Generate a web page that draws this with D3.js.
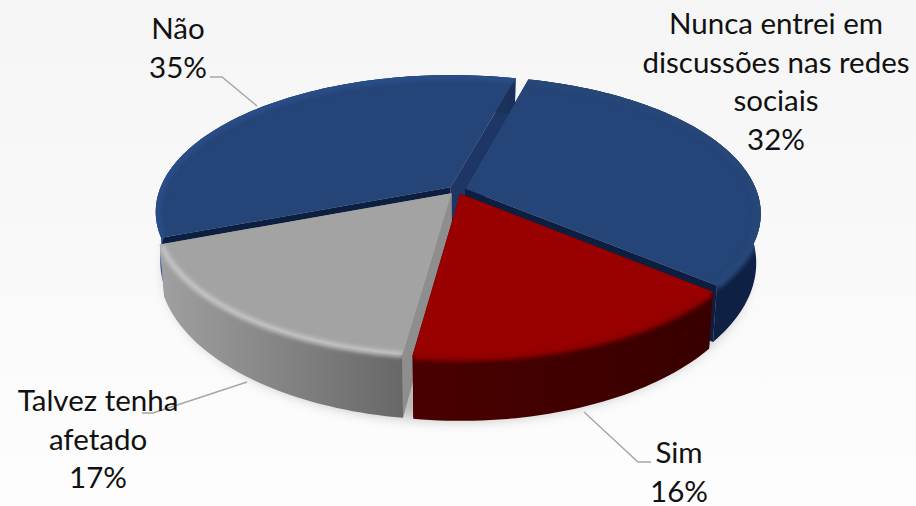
<!DOCTYPE html>
<html><head><meta charset="utf-8">
<script src="https://cdnjs.cloudflare.com/ajax/libs/d3/7.8.5/d3.min.js"></script>
<style>html,body{margin:0;padding:0;background:#f8f8f8}svg{display:block}text{font-family:Lato,"Open Sans",sans-serif;fill:#111}</style>
</head><body><svg id="c" width="916" height="506"></svg>
<script>
const categories=["Nunca entrei em discussões nas redes sociais","Sim","Talvez tenha afetado","Não"];
const values=[32,16,17,35];
const topColors=["#254478","#990000","#a3a3a3","#254478"];
const wallLeft=["#0c1d3c","#4a0000","#a0a0a0","#2c5596"];
const wallRight=["#0e2144","#380000","#686868","#1a3058"];
const cutStart=["#0d1f40","#5a0000","#8e8e8e","#0d1f40"];
const cutEnd=["#0d1f40","#5a0000","#8e8e8e","#1d3666"];
const bevelColors=["#264678","#930404","#c9c9c9","#294d88"];
const bevelWidths=[9,8,5,7];
const labelLines=[["Nunca entrei em","discussões nas redes","sociais","32%"],["Sim","16%"],["Talvez tenha","afetado","17%"],["Não","35%"]];
const labelPos=[[776,34],[679,463],[98,411],[178,39]];
const leaders=[null,[[651,462],[638,462],[584,412]],[[142,413],[153,413],[247,382]],[[210,77],[222,77],[257,106]]];

const W=916,H=506,cx=457,cy=190,R=291,Ry=133,k=0.177,explode=0.03;
const bx=0.985,by=1.1,dy=47;
const svg=d3.select("#c");
const defs=svg.append("defs");
const bg=defs.append("linearGradient").attr("id","bg").attr("x1",0).attr("y1",0).attr("x2",0).attr("y2",1);
bg.append("stop").attr("offset",0).attr("stop-color","#f5f5f5");
bg.append("stop").attr("offset",1).attr("stop-color","#fdfdfd");
defs.append("filter").attr("id","blur8").attr("x","-20%").attr("y","-20%").attr("width","140%").attr("height","140%").append("feGaussianBlur").attr("stdDeviation",7);
defs.append("filter").attr("id","blur2").attr("x","-20%").attr("y","-20%").attr("width","140%").attr("height","140%").append("feGaussianBlur").attr("stdDeviation",2.2);
svg.append("rect").attr("width",W).attr("height",H).attr("fill","url(#bg)");

const start=15*Math.PI/180;
const pie=d3.pie().sort(null).startAngle(start).endAngle(start+2*Math.PI);
const arcs=pie(values);
const line=d3.line();
function proj(u,v,plane){
  const s=1/(1-k*v);
  return plane? [cx+R*u*s*bx, cy+dy+Ry*v*s*by] : [cx+R*u*s, cy+Ry*v*s];
}
function rimPt(a,d,r,plane){
  const m=(d.startAngle+d.endAngle)/2;
  return proj(r*Math.sin(a)+explode*Math.sin(m), -r*Math.cos(a)-explode*Math.cos(m), plane);
}
function rim(d,r,plane){
  const n=Math.ceil((d.endAngle-d.startAngle)*40);
  return d3.range(n+1).map(i=>rimPt(d.startAngle+(d.endAngle-d.startAngle)*i/n,d,r,plane));
}
const closed=p=>line(p)+"Z";

const outline=d3.range(181).map(i=>{const a=i/180*2*Math.PI;return proj(Math.sin(a),-Math.cos(a),1)});
svg.append("path").attr("d",closed(outline)).attr("fill","#000").attr("opacity",.26)
  .attr("transform","translate(0,5)").attr("filter","url(#blur8)");

const order=[3,0,2,1];
order.forEach(i=>{
  const d=arcs[i], g=svg.append("g");
  const apexT=rimPt(d.startAngle,d,0,0), apexB=rimPt(d.startAngle,d,0,1);
  const topRim=rim(d,1,0), baseRim=rim(d,1,1);
  const gid="w"+i;
  const lg=defs.append("linearGradient").attr("id",gid).attr("gradientUnits","userSpaceOnUse")
    .attr("x1",d3.min(topRim,p=>p[0])).attr("x2",d3.max(topRim,p=>p[0])).attr("y1",0).attr("y2",0);
  lg.append("stop").attr("offset",0).attr("stop-color",wallLeft[i]);
  lg.append("stop").attr("offset",1).attr("stop-color",wallRight[i]);
  [0,topRim.length-1].forEach(e=>{
    g.append("path").attr("d",closed([apexT,topRim[e],baseRim[e],apexB])).attr("fill",e===0?cutStart[i]:cutEnd[i]);
  });
  const wall=topRim.concat(baseRim.slice().reverse());
  g.append("path").attr("d",closed(wall)).attr("fill",`url(#${gid})`);
  const face=[apexT].concat(topRim);
  g.append("path").attr("d",closed(face)).attr("fill",topColors[i]);
  const cid="c"+i;
  const cp=defs.append("clipPath").attr("id",cid);
  cp.append("path").attr("d",closed(face));
  cp.append("path").attr("d",closed(wall));
  g.append("g").attr("clip-path",`url(#${cid})`).append("path")
    .attr("d",line(rim(d,0.995,0))).attr("fill","none").attr("stroke",bevelColors[i])
    .attr("stroke-width",bevelWidths[i]).attr("transform","translate(0,1)").attr("filter","url(#blur2)");
});

svg.append("g").selectAll("path").data(leaders.filter(Boolean)).join("path")
  .attr("d",d=>line(d)).attr("fill","none").attr("stroke","#a6a6a6").attr("stroke-width",1.4);

labelLines.forEach((ls,i)=>{
  const t=svg.append("text").attr("text-anchor","middle").attr("font-size",29.5);
  ls.forEach((s,j)=>t.append("tspan").attr("x",labelPos[i][0]).attr("y",labelPos[i][1]+j*38.5).text(s));
});
</script></body></html>
